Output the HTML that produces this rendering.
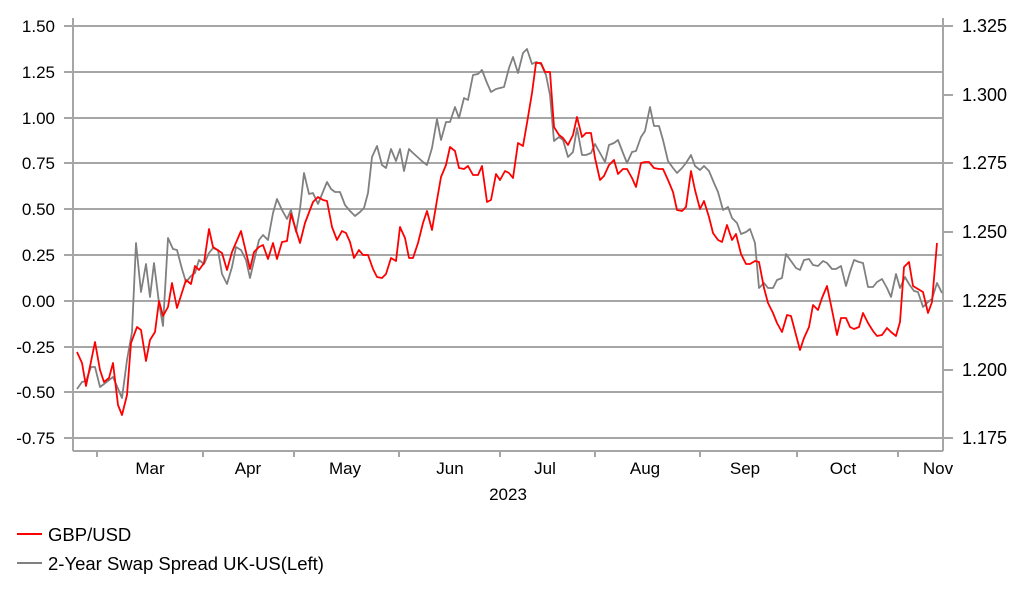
<!DOCTYPE html>
<html><head><meta charset="utf-8"><style>
body{margin:0;background:#fff;}
svg{display:block;font-family:"Liberation Sans",Arial,sans-serif;}
</style></head><body>
<svg width="1022" height="597" viewBox="0 0 1022 597">
<g stroke="#a6a6a6" stroke-width="2" fill="none">
<line x1="64" y1="26" x2="943" y2="26"/>
<line x1="64" y1="72" x2="943" y2="72"/>
<line x1="64" y1="118" x2="943" y2="118"/>
<line x1="64" y1="163" x2="943" y2="163"/>
<line x1="64" y1="209" x2="943" y2="209"/>
<line x1="64" y1="255" x2="943" y2="255"/>
<line x1="64" y1="301" x2="943" y2="301"/>
<line x1="64" y1="347" x2="943" y2="347"/>
<line x1="64" y1="392" x2="943" y2="392"/>
<line x1="64" y1="438" x2="943" y2="438"/>
<line x1="73" y1="18" x2="73" y2="451"/>
<line x1="943" y1="18" x2="943" y2="451"/>
<line x1="73" y1="451" x2="943" y2="451"/>
<line x1="943" y1="26" x2="953" y2="26"/><line x1="943" y1="95" x2="953" y2="95"/><line x1="943" y1="163" x2="953" y2="163"/><line x1="943" y1="232" x2="953" y2="232"/><line x1="943" y1="301" x2="953" y2="301"/><line x1="943" y1="370" x2="953" y2="370"/><line x1="943" y1="438" x2="953" y2="438"/>
<line x1="97" y1="451" x2="97" y2="457"/><line x1="203" y1="451" x2="203" y2="457"/><line x1="294" y1="451" x2="294" y2="457"/><line x1="399" y1="451" x2="399" y2="457"/><line x1="500" y1="451" x2="500" y2="457"/><line x1="595" y1="451" x2="595" y2="457"/><line x1="700" y1="451" x2="700" y2="457"/><line x1="797" y1="451" x2="797" y2="457"/><line x1="898" y1="451" x2="898" y2="457"/>
</g>
<g font-size="17" fill="#000" text-anchor="end">
<text x="55" y="32">1.50</text><text x="55" y="78">1.25</text><text x="55" y="124">1.00</text><text x="55" y="169">0.75</text><text x="55" y="215">0.50</text><text x="55" y="261">0.25</text><text x="55" y="307">0.00</text><text x="55" y="353">-0.25</text><text x="55" y="398">-0.50</text><text x="55" y="444">-0.75</text>
</g>
<g font-size="18" fill="#000">
<text x="962" y="32">1.325</text><text x="962" y="101">1.300</text><text x="962" y="169">1.275</text><text x="962" y="238">1.250</text><text x="962" y="307">1.225</text><text x="962" y="376">1.200</text><text x="962" y="444">1.175</text>
</g>
<g font-size="17" fill="#000" text-anchor="middle">
<text x="150" y="474">Mar</text><text x="248" y="474">Apr</text><text x="345" y="474">May</text><text x="450" y="474">Jun</text><text x="545" y="474">Jul</text><text x="645" y="474">Aug</text><text x="745" y="474">Sep</text><text x="843" y="474">Oct</text><text x="938" y="474">Nov</text>
<text x="508" y="500">2023</text>
</g>
<polyline fill="none" stroke="#808080" stroke-width="1.8" stroke-linejoin="round" points="77,389 82,382 86,381 91,367 95,367 100,387 104,384 113,377 122,398 127,360 132,332 136,243 141,292 146,264 150,297 154,263 159,303 163,326 168,238 173,249 177,250 182,269 186,282 191,276 195,273 199,260 204,264 209,253 213,248 218,250 222,274 227,284 232,267 236,247 241,250 246,260 250,278 254,261 259,240 263,235 268,240 273,213 277,199 282,210 287,219 291,210 296,232 300,209 304,173 309,194 313,193 318,204 327,182 331,189 335,192 340,192 345,205 350,211 355,216 360,212 364,208 368,193 372,157 377,146 382,165 386,168 391,149 396,161 400,149 404,171 409,149 413,153 423,162 427,165 432,148 437,119 441,140 446,122 450,122 455,107 459,118 464,98 468,100 473,75 478,74 482,70 487,83 491,92 496,89 504,87 509,68 513,57 518,73 523,53 527,49 532,64 536,62 541,64 546,75 550,95 554,141 559,137 563,140 568,157 573,152 577,128 582,155 586,155 591,153 595,144 600,153 605,162 609,145 614,143 618,140 623,153 627,163 632,152 636,151 641,137 645,131 650,107 654,126 659,126 663,140 668,161 673,168 677,173 682,168 686,163 691,155 695,166 700,170 704,166 709,171 714,183 718,192 723,210 728,207 732,218 737,223 741,234 746,232 750,229 755,243 759,288 764,283 768,288 773,288 777,280 782,278 786,254 791,261 796,268 800,270 804,260 809,259 813,265 818,266 823,261 827,263 832,269 836,269 841,266 846,286 850,272 854,260 859,262 863,263 868,287 873,287 877,282 882,279 887,288 891,297 896,274 900,288 905,277 909,284 914,291 918,292 923,307 928,302 932,299 937,283 942,293"/>
<polyline fill="none" stroke="#ff0000" stroke-width="1.8" stroke-linejoin="round" points="77,352 82,363 86,386 95,342 100,370 104,382 109,378 113,363 118,405 122,415 127,395 131,343 137,327 141,330 146,361 150,340 155,332 159,301 163,316 168,307 172,283 177,308 186,280 191,284 195,266 199,270 204,263 209,229 213,247 222,253 227,270 232,252 241,231 250,269 254,252 259,247 263,245 268,259 273,243 277,259 282,242 287,241 291,214 300,243 305,223 313,202 318,197 323,200 327,201 332,227 337,240 342,231 346,233 350,242 354,258 359,250 363,255 368,255 373,269 377,277 382,278 386,274 391,258 396,261 400,227 405,238 409,258 413,258 418,243 423,223 427,211 432,230 437,200 441,177 446,165 450,147 455,151 459,168 464,169 468,166 473,175 478,175 482,166 487,202 491,200 496,174 500,180 505,171 509,173 513,178 518,143 523,146 527,123 532,93 536,63 541,63 545,72 550,72 554,127 559,135 563,138 568,145 573,135 577,117 582,137 586,133 591,133 595,158 600,180 604,176 609,165 614,160 618,174 623,169 627,169 632,178 636,187 641,163 645,162 649,162 654,168 659,169 663,169 668,180 673,192 677,210 682,211 686,207 691,171 695,190 700,209 704,201 709,217 713,233 718,240 722,242 727,225 732,240 736,234 741,254 746,264 750,264 755,261 759,262 764,288 768,303 773,313 777,323 782,332 787,315 791,316 796,335 800,350 804,338 809,327 813,305 818,310 822,298 827,286 832,310 837,335 841,318 846,318 850,327 854,329 859,327 863,313 868,323 873,331 877,336 882,335 887,328 891,332 896,336 900,322 904,267 909,262 913,286 918,289 923,292 928,313 932,302 937,243"/>
<line x1="17" y1="534" x2="42" y2="534" stroke="#ff0000" stroke-width="2"/>
<text x="48" y="541" font-size="18.5">GBP/USD</text>
<line x1="17" y1="563" x2="42" y2="563" stroke="#808080" stroke-width="2"/>
<text x="48" y="570" font-size="18.5">2-Year Swap Spread UK-US(Left)</text>
</svg>
</body></html>
